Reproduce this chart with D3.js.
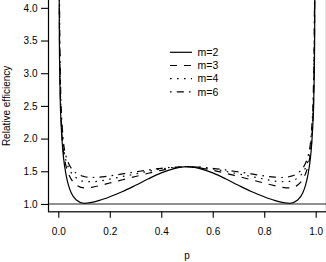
<!DOCTYPE html>
<html><head><meta charset="utf-8">
<script src="https://cdn.jsdelivr.net/npm/d3@7"></script>
<style>
html,body{margin:0;padding:0;background:#fff;}
svg{display:block;font-family:"Liberation Sans",Arial,Helvetica,sans-serif;}
</style></head>
<body>
<svg id="chart" width="326" height="262"></svg>
<script>
// p values
const pValues = [0.002,0.004,0.006,0.008,0.01,0.015,0.02,0.03,0.04,0.05,0.07,0.1,0.13,0.16,0.2,0.25,0.3,0.35,0.4,0.45,0.5,
                 0.55,0.6,0.65,0.7,0.75,0.8,0.84,0.87,0.9,0.93,0.95,0.96,0.97,0.98,0.985,0.99,0.992,0.994,0.996,0.998];
// Relative efficiency for each m
const effM2 = [6.0,3.6,2.9,2.5,2.3,1.95,1.72,1.45,1.28,1.17,1.06,1.01,1.025,1.055,1.11,1.19,1.285,1.385,1.475,1.54,1.57,
               1.54,1.475,1.385,1.285,1.19,1.11,1.055,1.025,1.01,1.06,1.17,1.28,1.45,1.72,1.95,2.3,2.5,2.9,3.6,6.0];
const effM3 = [7.0,4.0,3.1,2.65,2.4,2.0,1.8,1.58,1.46,1.38,1.29,1.245,1.255,1.28,1.32,1.37,1.42,1.47,1.515,1.55,1.57,
               1.55,1.515,1.47,1.42,1.37,1.32,1.28,1.255,1.245,1.29,1.38,1.46,1.58,1.8,2.0,2.4,2.65,3.1,4.0,7.0];
const effM4 = [8.0,4.4,3.3,2.8,2.5,2.1,1.88,1.66,1.55,1.48,1.40,1.345,1.34,1.35,1.38,1.42,1.46,1.5,1.535,1.56,1.57,
               1.56,1.535,1.5,1.46,1.42,1.38,1.35,1.34,1.345,1.40,1.48,1.55,1.66,1.88,2.1,2.5,2.8,3.3,4.4,8.0];
const effM6 = [9.0,4.8,3.5,2.95,2.6,2.2,1.95,1.73,1.62,1.55,1.47,1.42,1.405,1.41,1.43,1.46,1.49,1.52,1.545,1.563,1.57,
               1.563,1.545,1.52,1.49,1.46,1.43,1.41,1.405,1.42,1.47,1.55,1.62,1.73,1.95,2.2,2.6,2.95,3.5,4.8,9.0];
const seriesNames = ["m=2","m=3","m=4","m=6"];
const xTicks = [0,0.2,0.4,0.6,0.8,1.0];
const yTicks = [1.0,1.5,2.0,2.5,3.0,3.5,4.0];
const refLine = 1.0;

const series = [
  {name: seriesNames[0], values: effM2, dash: null},
  {name: seriesNames[1], values: effM3, dash: "7,7"},
  {name: seriesNames[2], values: effM4, dash: "1.6,5.4"},
  {name: seriesNames[3], values: effM6, dash: "1.6,5.2,7,5.2"}
];

const L = 48, R = 326, T = 0, B = 211.8;
const svg = d3.select("#chart");
const x = d3.scaleLinear().domain([-0.04,1.04]).range([L,R]);
const y = d3.scaleLinear().domain([0.88,4.12]).range([B,T]);

svg.append("defs").append("clipPath").attr("id","clip")
  .append("rect").attr("x",L).attr("y",T).attr("width",R-L).attr("height",B-T);

const g = svg.append("g").attr("clip-path","url(#clip)");
const line = d3.line().x((d,i)=>x(pValues[i])).y(d=>y(d)).curve(d3.curveMonotoneX);

series.forEach(s=>{
  g.append("path").datum(s.values).attr("d",line)
    .attr("fill","none").attr("stroke","#000").attr("stroke-width",1.2)
    .attr("stroke-dasharray", s.dash);
});

// reference line at 1
svg.append("line").attr("x1",L).attr("x2",R).attr("y1",y(refLine)).attr("y2",y(refLine))
  .attr("stroke","#222").attr("stroke-width",1.1);

// box
svg.append("rect").attr("x",L+0.5).attr("y",-1).attr("width",R-L).attr("height",B+1)
  .attr("fill","none").attr("stroke","#000").attr("stroke-width",1.2);

// axes
const xAxis = svg.append("g").attr("transform",`translate(0,${B})`)
  .call(d3.axisBottom(x).tickValues(xTicks).tickFormat(d3.format(".1f")).tickSize(6).tickPadding(10));
xAxis.select(".domain").remove();
const yAxis = svg.append("g").attr("transform",`translate(${L},0)`)
  .call(d3.axisLeft(y).tickValues(yTicks).tickFormat(d3.format(".1f")).tickSize(7).tickPadding(3.5));
yAxis.select(".domain").remove();
svg.selectAll(".tick text").attr("font-size",10).attr("font-family","Liberation Sans, Arial, sans-serif").attr("fill","#000");
svg.selectAll(".tick line").attr("stroke","#000").attr("stroke-width",1.1);

// axis titles
svg.append("text").attr("x",(x(0)+x(1))/2).attr("y",259).attr("text-anchor","middle")
  .attr("font-size",10).text("p");
svg.append("text").attr("transform",`translate(9.5,${(y(1)+y(4))/2}) rotate(-90)`)
  .attr("text-anchor","middle").attr("font-size",10).text("Relative efficiency");

// legend
const leg = svg.append("g");
series.forEach((s,i)=>{
  const yy = 52.3 + i*13.2;
  leg.append("line").attr("x1",170).attr("x2",192).attr("y1",yy).attr("y2",yy)
    .attr("stroke","#000").attr("stroke-width",1.2).attr("stroke-dasharray",s.dash);
  leg.append("text").attr("x",197.5).attr("y",yy).attr("dy","0.35em")
    .attr("font-size",10.5).text(s.name);
});
</script>
</body></html>
